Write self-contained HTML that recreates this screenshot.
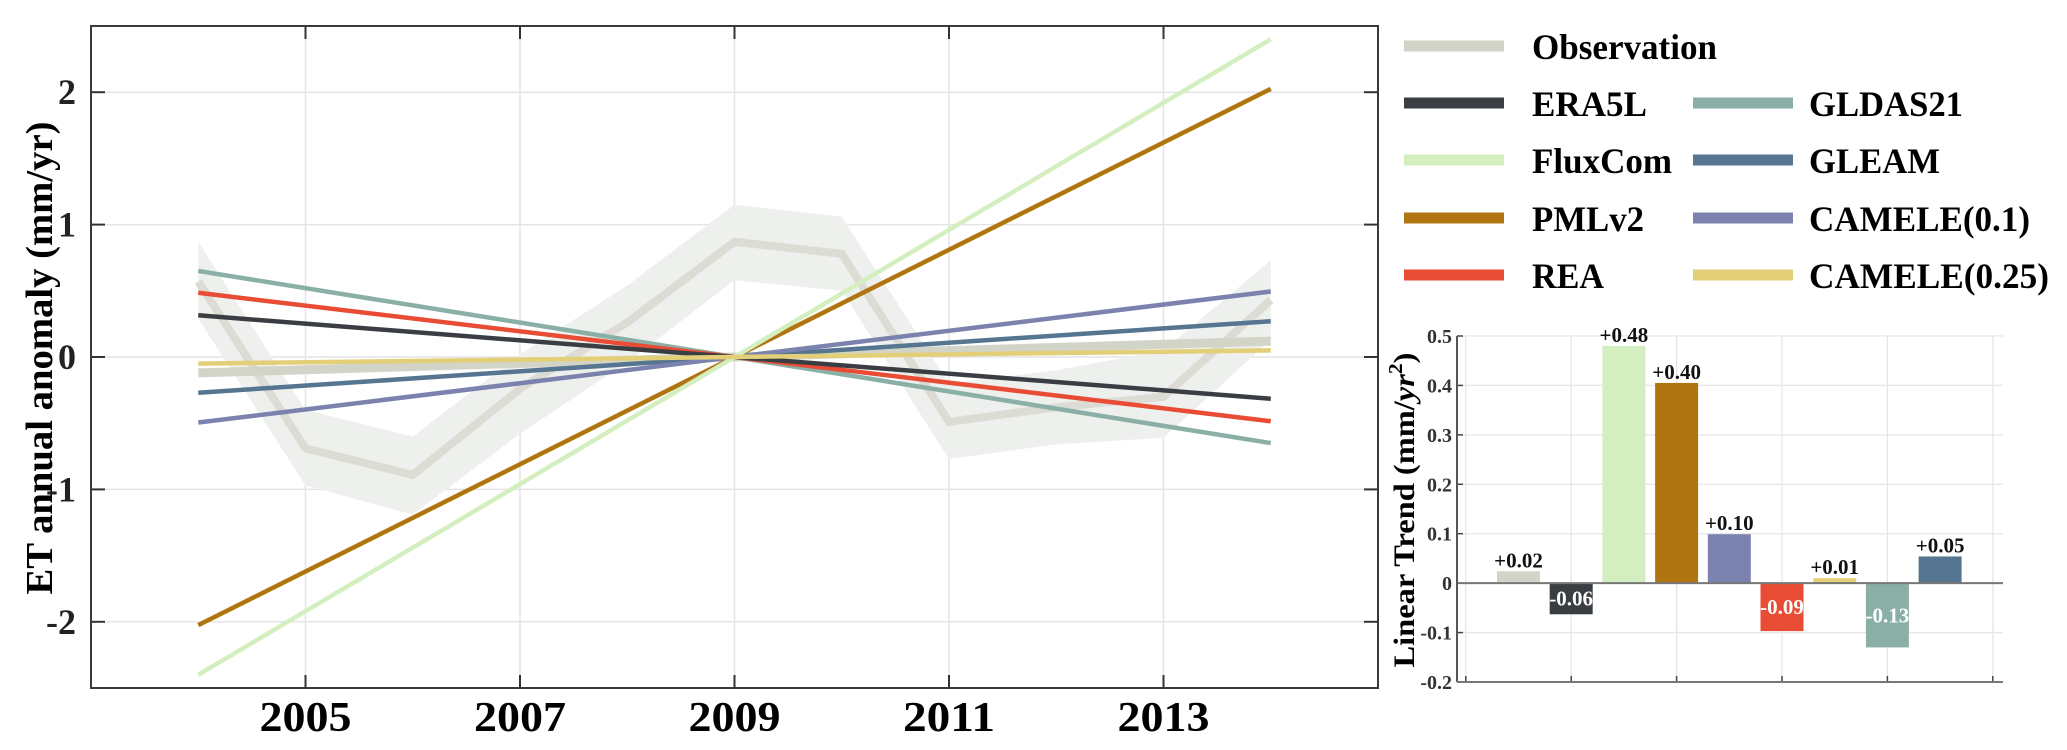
<!DOCTYPE html>
<html><head><meta charset="utf-8"><style>
html,body{margin:0;padding:0;background:#fff;}
svg{display:block;font-family:"Liberation Serif",serif;font-weight:bold;}
</style></head><body>
<svg id="chart" width="2067" height="750" viewBox="0 0 2067 750" xmlns="http://www.w3.org/2000/svg">
<g id="main"></g>
<g id="legend"></g>
<g id="bars"></g>
</svg>
<script>
// ---- data ----
const years = [2004,2005,2006,2007,2008,2009,2010,2011,2012,2013,2014];
const obsAnomaly = [0.57,-0.69,-0.89,-0.24,0.26,0.87,0.78,-0.49,-0.38,-0.30,0.43];
const obsUpper = [0.87,-0.40,-0.60,0.02,0.54,1.15,1.06,-0.20,-0.10,0.05,0.73];
const obsLower = [0.29,-0.97,-1.19,-0.58,-0.04,0.58,0.50,-0.77,-0.66,-0.61,0.13];
const datasets = ["Observation","ERA5L","FluxCom","PMLv2","CAMELE(0.1)","REA","CAMELE(0.25)","GLDAS21","GLEAM"];
const trends = [0.024,-0.063,0.480,0.405,0.099,-0.097,0.010,-0.130,0.054];
const trendLabels = ["+0.02","-0.06","+0.48","+0.40","+0.10","-0.09","+0.01","-0.13","+0.05"];
const xTicks = [2005,2007,2009,2011,2013];
const yTicks = [-2,-1,0,1,2];
const barYTicks = [-0.2,-0.1,0,0.1,0.2,0.3,0.4,0.5];
const barYTickLabels = ["-0.2","-0.1","0","0.1","0.2","0.3","0.4","0.5"];
const colors = {"Observation":"#d3d4c8","ERA5L":"#3a3e42","FluxCom":"#d3efc0","PMLv2":"#b07411","CAMELE(0.1)":"#7a82ad","REA":"#e84c35","CAMELE(0.25)":"#e2cf77","GLDAS21":"#8aafa6","GLEAM":"#557590"};

const NS="http://www.w3.org/2000/svg";
function mk(parent,tag,attrs,text){const e=document.createElementNS(NS,tag);for(const k in attrs)e.setAttribute(k,attrs[k]);if(text!==undefined)e.textContent=text;parent.appendChild(e);return e;}

// ---- main chart ----
const M={l:91,r:1378,t:26,b:688,x0:2003,x1:2015,y0:-2.5,y1:2.5};
const X=v=>M.l+(v-M.x0)/(M.x1-M.x0)*(M.r-M.l);
const Y=v=>M.b-(v-M.y0)/(M.y1-M.y0)*(M.b-M.t);
const g=document.getElementById('main');
xTicks.forEach(t=>{
  const l=mk(g,'line',{x1:X(t),x2:X(t),y1:M.t,y2:M.b,stroke:'#e4e4e4','stroke-width':1.5});
  
  
});
yTicks.forEach(t=>{
  const l=mk(g,'line',{x1:M.l,x2:M.r,y1:Y(t),y2:Y(t),stroke:'#e4e4e4','stroke-width':1.5});
  
  
});
// band
let pts=years.map((y,i)=>X(y)+','+Y(obsUpper[i]));
for(let i=years.length-1;i>=0;i--)pts.push(X(years[i])+','+Y(obsLower[i]));
const band=mk(g,'polygon',{points:pts.join(' '),fill:'#eef0ed'});


const obsLine=mk(g,'polyline',{points:years.map((y,i)=>X(y)+','+Y(obsAnomaly[i])).join(' '),fill:'none',stroke:'#dcdbd4','stroke-width':8,'stroke-linejoin':'miter'});


// trend lines
const order=[0,7,5,1,8,4,3,2,6];
order.forEach(i=>{
  const name=datasets[i];
  const a=years[0],b=years[years.length-1];
  const ln=mk(g,'line',{x1:X(a),y1:Y(trends[i]*(a-2009)),x2:X(b),y2:Y(trends[i]*(b-2009)),stroke:colors[name],'stroke-width':i===0?9:4.5});
  
  
});
// frame & ticks
const fr=mk(g,'rect',{x:M.l,y:M.t,width:M.r-M.l,height:M.b-M.t,fill:'none',stroke:'#3a3a3a','stroke-width':2});


xTicks.forEach(t=>{
  mk(g,'line',{x1:X(t),x2:X(t),y1:M.b,y2:M.b-13,stroke:'#333','stroke-width':2});
  mk(g,'line',{x1:X(t),x2:X(t),y1:M.t,y2:M.t+13,stroke:'#333','stroke-width':2});
  const tx=mk(g,'text',{x:X(t),y:731,'text-anchor':'middle','font-size':42,textLength:92,lengthAdjust:'spacingAndGlyphs'},String(t));
  
  
});
yTicks.forEach(t=>{
  mk(g,'line',{x1:M.l,x2:M.l+14,y1:Y(t),y2:Y(t),stroke:'#333','stroke-width':2});
  mk(g,'line',{x1:M.r,x2:M.r-14,y1:Y(t),y2:Y(t),stroke:'#333','stroke-width':2});
  const tx=mk(g,'text',{x:76,y:Y(t)+12,'text-anchor':'end','font-size':36,fill:'#222'},String(t));
  
  
});
const yl=mk(g,'text',{x:0,y:0,'text-anchor':'middle','font-size':38,transform:'translate(52,358) rotate(-90)',textLength:473,lengthAdjust:'spacingAndGlyphs'},'ET annual anomaly (mm/yr)');



// ---- legend ----
const lg=document.getElementById('legend');
const legItems=[["Observation",1404,1532,46,185],["ERA5L",1404,1532,103,115],["FluxCom",1404,1532,160,140],["PMLv2",1404,1532,218,112],["REA",1404,1532,275,72],
["GLDAS21",1693,1809,103,154],["GLEAM",1693,1809,160,131],["CAMELE(0.1)",1693,1809,218,221],["CAMELE(0.25)",1693,1809,275,240]];
legItems.forEach(it=>{
  const grp=mk(lg,'g',{});
  
  
  mk(grp,'rect',{x:it[1],y:it[3]-5.5,width:100,height:11,fill:colors[it[0]]});
  mk(grp,'text',{x:it[2],y:it[3]+13,'font-size':36,textLength:it[4],lengthAdjust:'spacingAndGlyphs'},it[0]);
});

// ---- bar chart ----
const B={l:1457,r:2003,t:336,b:682,y0:-0.2,y1:0.5};
const bx=i=>1518.5+i*52.7;
const BY=v=>B.b-(v-B.y0)/(B.y1-B.y0)*(B.b-B.t);
const bg=document.getElementById('bars');
[-1,1,3,5,7,9].forEach(k=>{
  const l=mk(bg,'line',{x1:bx(k),x2:bx(k),y1:B.t,y2:B.b,stroke:'#e6e6e6','stroke-width':1.3});
  
  
  mk(bg,'line',{x1:bx(k),x2:bx(k),y1:B.b,y2:B.b-6,stroke:'#444','stroke-width':1.5});
});
barYTicks.forEach((t,i)=>{
  if(t!==0){const l=mk(bg,'line',{x1:B.l,x2:B.r,y1:BY(t),y2:BY(t),stroke:'#e6e6e6','stroke-width':1.3});
  
  }
  mk(bg,'line',{x1:B.l,x2:B.l+6,y1:BY(t),y2:BY(t),stroke:'#444','stroke-width':1.5});
  const tx=mk(bg,'text',{x:1452,y:BY(t)+7,'text-anchor':'end','font-size':20,fill:'#333'},barYTickLabels[i]);
  
  
});
trends.forEach((v,i)=>{
  const y1=BY(Math.max(v,0)),y2=BY(Math.min(v,0));
  const r=mk(bg,'rect',{x:bx(i)-21.5,y:y1,width:43,height:Math.max(y2-y1,1),fill:colors[datasets[i]]});
  
  
  const ly=v>=0?y1-4:(y1+y2)/2+7;
  const tx=mk(bg,'text',{x:bx(i),y:ly,'text-anchor':'middle','font-size':21,fill:v>=0?'#111':'#fff'},trendLabels[i]);
  
  
});
const zl=mk(bg,'line',{x1:B.l,x2:B.r,y1:BY(0),y2:BY(0),stroke:'#777','stroke-width':2});


mk(bg,'line',{x1:B.l,x2:B.l,y1:B.t,y2:B.b,stroke:'#555','stroke-width':2});
mk(bg,'line',{x1:B.l,x2:B.r,y1:B.b,y2:B.b,stroke:'#777','stroke-width':2});
const byl=mk(bg,'text',{x:0,y:0,'text-anchor':'middle','font-size':30,transform:'translate(1414,510) rotate(-90)',textLength:315,lengthAdjust:'spacingAndGlyphs'});


mk(byl,'tspan',{},'Linear Trend (mm/');
mk(byl,'tspan',{'font-style':'italic'},'yr');
mk(byl,'tspan',{'font-size':20,dy:-12},'2');
mk(byl,'tspan',{dy:12},')');
</script>
</body></html>
